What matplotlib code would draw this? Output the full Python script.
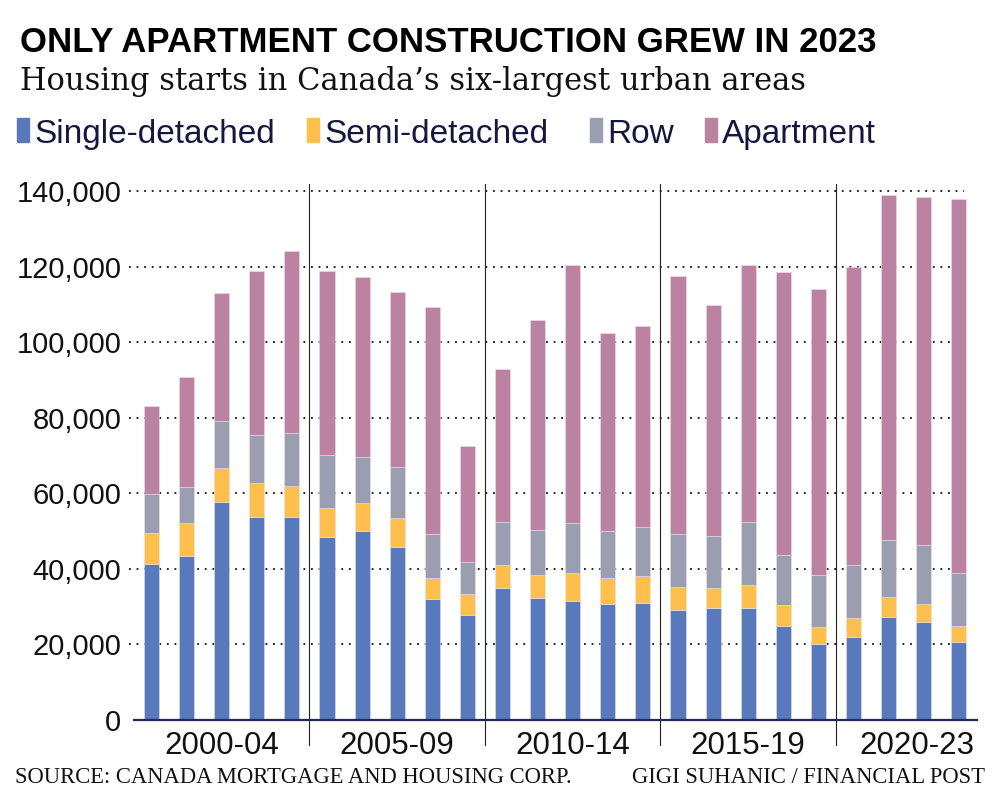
import matplotlib
matplotlib.use('Agg')
import matplotlib.pyplot as plt
from matplotlib import font_manager
from matplotlib.patches import Rectangle
import numpy as np

# Housing starts, six largest urban areas
years = list(range(2000, 2024))
single = [41.3, 43.5, 57.7, 53.7, 53.8, 48.4, 50.1, 45.9, 31.9, 27.9,
          34.8, 32.2, 31.5, 30.8, 31.0, 29.1, 29.6, 29.6, 24.8, 20.0,
          22.0, 27.3, 25.9, 20.6]
semi = [8.2, 8.5, 9.0, 8.9, 8.2, 7.7, 7.3, 7.5, 5.7, 5.4,
        6.1, 6.3, 7.5, 6.9, 7.2, 6.1, 5.3, 6.1, 5.5, 4.5,
        5.1, 5.3, 4.9, 4.4]
row = [10.4, 9.7, 12.3, 12.9, 14.0, 14.1, 12.3, 13.6, 11.6, 8.5,
       11.6, 11.8, 13.2, 12.2, 12.9, 13.9, 13.7, 16.7, 13.4, 14.0,
       13.8, 15.0, 15.5, 13.9]
apartment = [23.3, 29.1, 33.9, 43.2, 48.1, 48.5, 47.6, 46.3, 60.2, 30.8,
             40.5, 55.6, 68.1, 52.6, 53.1, 68.5, 61.3, 67.9, 74.9, 75.5,
             79.1, 91.3, 92.2, 99.0]
series_names = ['Single-detached', 'Semi-detached', 'Row', 'Apartment']
colors = ['#5879bc', '#febf4c', '#9a9eb0', '#bc82a2']
group_labels = ['2000-04', '2005-09', '2010-14', '2015-19', '2020-23']
group_centers = [2, 7, 12, 17, 21.8]
separators = [4.5, 9.5, 14.5, 19.5]
yticks = [0, 20000, 40000, 60000, 80000, 100000, 120000, 140000]

names = {f.name for f in font_manager.fontManager.ttflist}
if 'Liberation Sans Narrow' in names:
    title_font, title_size = 'Liberation Sans Narrow', 29
else:
    title_font, title_size = 'Liberation Sans', 25

plt.rcParams['font.family'] = ['Liberation Sans', 'DejaVu Sans']

fig = plt.figure(figsize=(10, 8.11), dpi=100)
ax = fig.add_axes([0.134, 0.1122, 0.843, 0.6617])

x = np.arange(len(years))
bottom = np.zeros(len(years))
for vals, col in zip([single, semi, row, apartment], colors):
    v = np.array(vals) * 1000
    ax.bar(x, v, width=0.43, bottom=bottom, color=col, edgecolor='#e6e0ea',
           linewidth=0.4, zorder=3)
    bottom += v

ax.set_xlim(-0.5, 23.52)
ax.set_ylim(0, 142000)

# dotted gridlines
ax.hlines(yticks[1:], -0.65, 23.15, colors='#111111', linestyles=(0, (1, 3.2)),
          linewidth=1.3, zorder=1, clip_on=False)

# group separators
for s in separators:
    ax.plot([s, s], [-6600, 141900], color='#222222', linewidth=0.8,
            zorder=2, clip_on=False)

for sp in ['top', 'right', 'left']:
    ax.spines[sp].set_visible(False)
ax.spines['bottom'].set_color('#1f2a55')
ax.spines['bottom'].set_linewidth(1.6)
ax.spines['bottom'].set_zorder(4)

ax.set_yticks(yticks)
ax.set_yticklabels(['{:,}'.format(t) for t in yticks], fontsize=21, color='#111111')
ax.tick_params(axis='y', length=0, pad=9)
ax.set_xticks([])

for lab, c in zip(group_labels, group_centers):
    ax.text(c, -3000, lab, ha='center', va='top', fontsize=22.5, color='#111111')

# title and subtitle
fig.text(0.02, 1 - 52 / 811, 'ONLY APARTMENT CONSTRUCTION GREW IN 2023',
         family=title_font, fontsize=title_size, fontweight='bold',
         color='black', va='baseline')
fig.text(0.02, 1 - 90 / 811, 'Housing starts in Canada\u2019s six-largest urban areas',
         family=['DejaVu Serif'], fontsize=22,
         color='#111111', va='baseline')

# legend
leg_x = [17, 307, 590, 705]
for name, col, lx in zip(series_names, colors, leg_x):
    fig.patches.append(Rectangle((lx / 1000, 1 - 142 / 811), 12 / 1000, 24 / 811,
                                 transform=fig.transFigure, color=col))
    fig.text((lx + 17) / 1000, 1 - 143 / 811, name, fontsize=24,
             color='#14183f', va='baseline')

# footer
fig.text(0.015, 1 - 783 / 811, 'SOURCE: CANADA MORTGAGE AND HOUSING CORP.',
         family=['Liberation Serif', 'DejaVu Serif'], fontsize=16.3,
         color='#111111', va='baseline')
fig.text(0.985, 1 - 783 / 811, 'GIGI SUHANIC / FINANCIAL POST',
         family=['Liberation Serif', 'DejaVu Serif'], fontsize=16.3,
         color='#111111', va='baseline', ha='right')

fig.savefig('out.png', dpi=100)
